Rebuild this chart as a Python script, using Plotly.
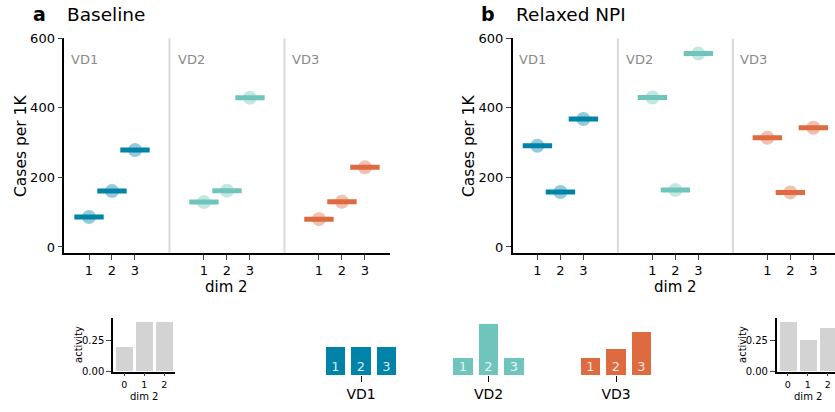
import plotly.graph_objects as go

# ---- data ---------------------------------------------------------------
groups = ["VD1", "VD2", "VD3"]
dim2_levels = [1, 2, 3]
group_colors = ["#0182a8", "#6fc5bc", "#de6a40"]
group_colors_light = ["rgba(1,130,168,0.42)", "rgba(111,197,188,0.42)", "rgba(222,106,64,0.42)"]

# cases per 1K, one list per VD group (dim 2 = 1, 2, 3)
baseline_cases = [[86, 161, 279], [129, 162, 429], [80, 130, 229]]
relaxed_cases = [[291, 158, 368], [430, 164, 556], [314, 157, 343]]

# share of each dim-2 level inside a VD group
group_mix = [[0.333, 0.333, 0.333], [0.2, 0.6, 0.2], [0.2, 0.3, 0.5]]

# activity by dim 2 (0, 1, 2)
activity_levels = [0, 1, 2]
activity_baseline = [0.2, 0.4, 0.4]
activity_relaxed = [0.4, 0.25, 0.35]

W, H = 835, 412
FONT = "DejaVu Sans"


def px(x):
    return x / W


def py(y):
    return 1 - y / H


group_offset = [0, 5, 10]
xpos = [[o + d for d in dim2_levels] for o in group_offset]

fig = go.Figure()

# ---- main panels ----------------------------------------------------------
for panel, (cases, ax) in enumerate([(baseline_cases, ""), (relaxed_cases, "2")]):
    for g in range(3):
        fig.add_trace(go.Scatter(
            x=xpos[g], y=cases[g], mode="markers",
            xaxis="x" + ax, yaxis="y" + ax,
            marker=dict(symbol="circle", size=14, color=group_colors_light[g], line=dict(width=0)),
            showlegend=False, hoverinfo="skip"))
        fig.add_trace(go.Scatter(
            x=xpos[g], y=cases[g], mode="markers",
            xaxis="x" + ax, yaxis="y" + ax,
            marker=dict(symbol="line-ew", size=21, color=group_colors[g],
                        line=dict(width=5, color=group_colors[g])),
            showlegend=False, hoverinfo="skip"))

# ---- activity insets --------------------------------------------------------
for vals, ax in [(activity_baseline, "3"), (activity_relaxed, "4")]:
    fig.add_trace(go.Bar(
        x=activity_levels, y=vals, width=0.85, xaxis="x" + ax, yaxis="y" + ax,
        marker=dict(color="#d3d3d3", line=dict(width=0)),
        showlegend=False, hoverinfo="skip"))

# ---- group composition bars --------------------------------------------------
for g in range(3):
    fig.add_trace(go.Bar(
        x=xpos[g], y=group_mix[g], width=0.78, xaxis="x5", yaxis="y5",
        marker=dict(color=group_colors[g], line=dict(width=0)),
        showlegend=False, hoverinfo="skip"))
    fig.add_trace(go.Scatter(
        x=xpos[g], y=[0.08] * 3, mode="text", text=[str(d) for d in dim2_levels],
        textposition="middle center", xaxis="x5", yaxis="y5",
        textfont=dict(family=FONT, size=13, color="rgba(255,255,255,0.85)"),
        showlegend=False, hoverinfo="skip", cliponaxis=False))

tick_font = dict(family=FONT, size=13, color="black")
small_font = dict(family=FONT, size=10, color="black")
main_x = dict(range=[-0.074, 14.09], tickvals=sum(xpos, []), ticktext=[str(d) for d in dim2_levels] * 3,
              ticks="outside", ticklen=5, tickwidth=1.3, showline=True, linewidth=1.5,
              linecolor="black", showgrid=False, zeroline=False, tickfont=tick_font,
              automargin=False)
main_y = dict(range=[-17.3, 600], tickvals=[0, 200, 400, 600], ticks="outside", ticklen=5,
              tickwidth=1.3, showline=True, linewidth=1.5, linecolor="black",
              showgrid=False, zeroline=False, tickfont=tick_font,
              domain=[py(253), py(38.3)], automargin=False)

inset_x = dict(tickvals=activity_levels, ticks="outside", ticklen=3, tickwidth=1.1,
               showline=True, linewidth=1.5, linecolor="black", showgrid=False,
               zeroline=False, tickfont=dict(family=FONT, size=9.5, color="black"),
               automargin=False)
inset_y = dict(range=[0, 0.43], tickvals=[0, 0.25], tickformat=".2f", ticks="outside",
               ticklen=5, tickwidth=1.1, showline=True, linewidth=1.5, linecolor="black",
               showgrid=False, zeroline=False, tickfont=small_font,
               domain=[py(371.7), py(318.3)], automargin=False)

fig.update_layout(
    width=W, height=H, autosize=False,
    margin=dict(l=0, r=0, t=0, b=0, pad=0),
    paper_bgcolor="white", plot_bgcolor="white",
    font=dict(family=FONT, color="black"),
    bargap=0,
    xaxis=dict(main_x, domain=[px(64.3), px(390)], anchor="y"),
    yaxis=dict(main_y, anchor="x"),
    xaxis2=dict(main_x, range=[-0.074, 13.94], domain=[px(512.7), 1], anchor="y2"),
    yaxis2=dict(main_y, anchor="x2"),
    xaxis3=dict(inset_x, range=[-0.565, 2.535], domain=[px(113), px(175)], anchor="y3"),
    yaxis3=dict(inset_y, anchor="x3"),
    xaxis4=dict(inset_x, range=[-0.55, 2.36], domain=[px(776.7), 1], anchor="y4"),
    yaxis4=dict(inset_y, anchor="x4"),
    xaxis5=dict(range=[0, 14], domain=[px(310), px(667)], anchor="y5",
                tickvals=[o + 2 for o in group_offset], ticktext=groups,
                ticks="outside", ticklen=6, tickwidth=1.3, tickcolor="black",
                showline=False, showgrid=False, zeroline=False, automargin=False,
                tickfont=dict(family=FONT, size=14, color="black")),
    yaxis5=dict(range=[0, 0.7], domain=[py(375), py(314.8)], anchor="x5",
                visible=False, showgrid=False, zeroline=False, automargin=False),
)

# group separators inside the main panels
for ax in ["", "2"]:
    for xb in [4.5, 9.5]:
        fig.add_shape(type="line", xref="x" + ax, yref="y" + ax, x0=xb, x1=xb,
                      y0=-17.3, y1=600, line=dict(color="#d9d9d9", width=2), layer="below")
    for g, xl in enumerate([0.13, 4.78, 9.72]):
        fig.add_annotation(x=xl, y=540, xref="x" + ax, yref="y" + ax, text=groups[g],
                           showarrow=False, xanchor="left", yanchor="middle",
                           font=dict(family=FONT, size=13, color="#8a8a8a"))
    fig.add_annotation(x=7, y=py(287), xref="x" + ax, yref="paper", text="dim 2",
                       showarrow=False, xanchor="center", yanchor="middle",
                       font=dict(family=FONT, size=15, color="black"))

# panel letters and titles
for letter, title, xl, xt in [("a", "Baseline", 31, 65), ("b", "Relaxed NPI", 479, 514)]:
    fig.add_annotation(x=px(xl), y=py(14), xref="paper", yref="paper", text="<b>" + letter + "</b>",
                       showarrow=False, xanchor="left", yanchor="middle",
                       font=dict(family=FONT, size=19, color="black"))
    fig.add_annotation(x=px(xt), y=py(15), xref="paper", yref="paper", text=title,
                       showarrow=False, xanchor="left", yanchor="middle",
                       font=dict(family=FONT, size=18.5, color="black"))

# y titles
for xc in [21, 469]:
    fig.add_annotation(x=px(xc), y=py(146), xref="paper", yref="paper", text="Cases per 1K",
                       showarrow=False, textangle=-90, xanchor="center", yanchor="middle",
                       font=dict(family=FONT, size=15.5, color="black"))

# inset titles
for xa, ax in [(78, "3"), (742, "4")]:
    fig.add_annotation(x=px(xa), y=py(345), xref="paper", yref="paper", text="activity",
                       showarrow=False, textangle=-90, xanchor="center", yanchor="middle",
                       font=dict(family=FONT, size=10, color="black"))
    fig.add_annotation(x=1, y=py(396), xref="x" + ax, yref="paper", text="dim 2",
                       showarrow=False, xanchor="center", yanchor="middle",
                       font=dict(family=FONT, size=10, color="black"))

fig.write_html("out.html")
